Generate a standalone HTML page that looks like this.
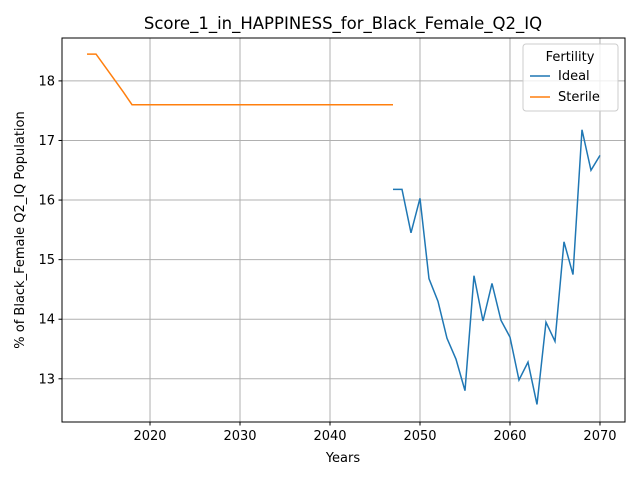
<!DOCTYPE html>
<html><head><meta charset="utf-8"><style>
body{margin:0;background:#fff;font-family:"Liberation Sans","DejaVu Sans",sans-serif;}
</style></head><body>
<svg id="chart" width="640" height="480" xmlns="http://www.w3.org/2000/svg" font-family="DejaVu Sans, Liberation Sans, sans-serif">
<rect width="640" height="480" fill="#fff"/>
<g id="grid"></g>
<g id="series"></g>
<rect x="62" y="38" width="563" height="384" fill="none" stroke="#000" stroke-width="1"/>
<g id="axes"></g>
<text x="343" y="29" text-anchor="middle" font-size="16.5">Score_1_in_HAPPINESS_for_Black_Female_Q2_IQ</text>
<text x="343" y="462" text-anchor="middle" font-size="13">Years</text>
<text transform="translate(24,230) rotate(-90)" text-anchor="middle" font-size="13">% of Black_Female Q2_IQ Population</text>
<g>
<rect x="523" y="44" width="95" height="67" fill="#fff" fill-opacity="0.8" stroke="#ccc" rx="3"/>
<text x="570" y="61" text-anchor="middle" font-size="13">Fertility</text>
<g><line x1="530" y1="76" x2="550" y2="76" stroke="#1f77b4" stroke-width="1.5"/><text x="558" y="80" font-size="13">Ideal</text></g>
<g><line x1="530" y1="97" x2="550" y2="97" stroke="#ff7f0e" stroke-width="1.5"/><text x="558" y="101" font-size="13">Sterile</text></g>
</g>
</svg>
<script>
const idealYears=[2047,2048,2049,2050,2051,2052,2053,2054,2055,2056,2057,2058,2059,2060,2061,2062,2063,2064,2065,2066,2067,2068,2069,2070];
const idealValues=[16.18,16.18,15.45,16.03,14.68,14.3,13.68,13.33,12.8,14.73,13.97,14.6,13.98,13.7,12.98,13.28,12.57,13.95,13.63,15.3,14.75,17.18,16.5,16.75];
const sterileYears=[2013,2014,2015,2016,2017,2018,2020,2025,2030,2035,2040,2045,2047];
const sterileValues=[18.45,18.45,18.24,18.03,17.82,17.6,17.6,17.6,17.6,17.6,17.6,17.6,17.6];
const xTicks=[2020,2030,2040,2050,2060,2070];
const yTicks=[13,14,15,16,17,18];
const X0=62,X1=625,Y0=422,Y1=38,xmin=2010.22,xmax=2072.78,ymin=12.275,ymax=18.72;
const sx=v=>X0+(v-xmin)/(xmax-xmin)*(X1-X0);
const sy=v=>Y0-(v-ymin)/(ymax-ymin)*(Y0-Y1);
const NS="http://www.w3.org/2000/svg";
const grid=document.getElementById('grid'),axes=document.getElementById('axes'),series=document.getElementById('series');
function mk(tag,attrs,parent){const e=document.createElementNS(NS,tag);for(const k in attrs)e.setAttribute(k,attrs[k]);parent.appendChild(e);return e;}
xTicks.forEach(t=>{const x=sx(t);
 const g=mk('line',{x1:x,x2:x,y1:Y1,y2:Y0,stroke:'#b0b0b0','stroke-width':1},grid);
 
 
 mk('line',{x1:x,x2:x,y1:Y0,y2:Y0+3.5,stroke:'#000'},axes);
 const tx=mk('text',{x:x,y:Y0+18,'text-anchor':'middle','font-size':13},axes);tx.textContent=t;
 
 });
yTicks.forEach(t=>{const y=sy(t);
 const g=mk('line',{x1:X0,x2:X1,y1:y,y2:y,stroke:'#b0b0b0','stroke-width':1},grid);
 
 
 mk('line',{x1:X0-3.5,x2:X0,y1:y,y2:y,stroke:'#000'},axes);
 const tx=mk('text',{x:X0-7,y:y+4.5,'text-anchor':'end','font-size':13},axes);tx.textContent=t;
 
 });
function line(xs,ys,color,name){const p=mk('polyline',{points:xs.map((x,i)=>sx(x)+','+sy(ys[i])).join(' '),fill:'none',stroke:color,'stroke-width':1.5},series);
 
 }
line(sterileYears,sterileValues,'#ff7f0e','sterile-line');
line(idealYears,idealValues,'#1f77b4','ideal-line');
</script>
</body></html>
